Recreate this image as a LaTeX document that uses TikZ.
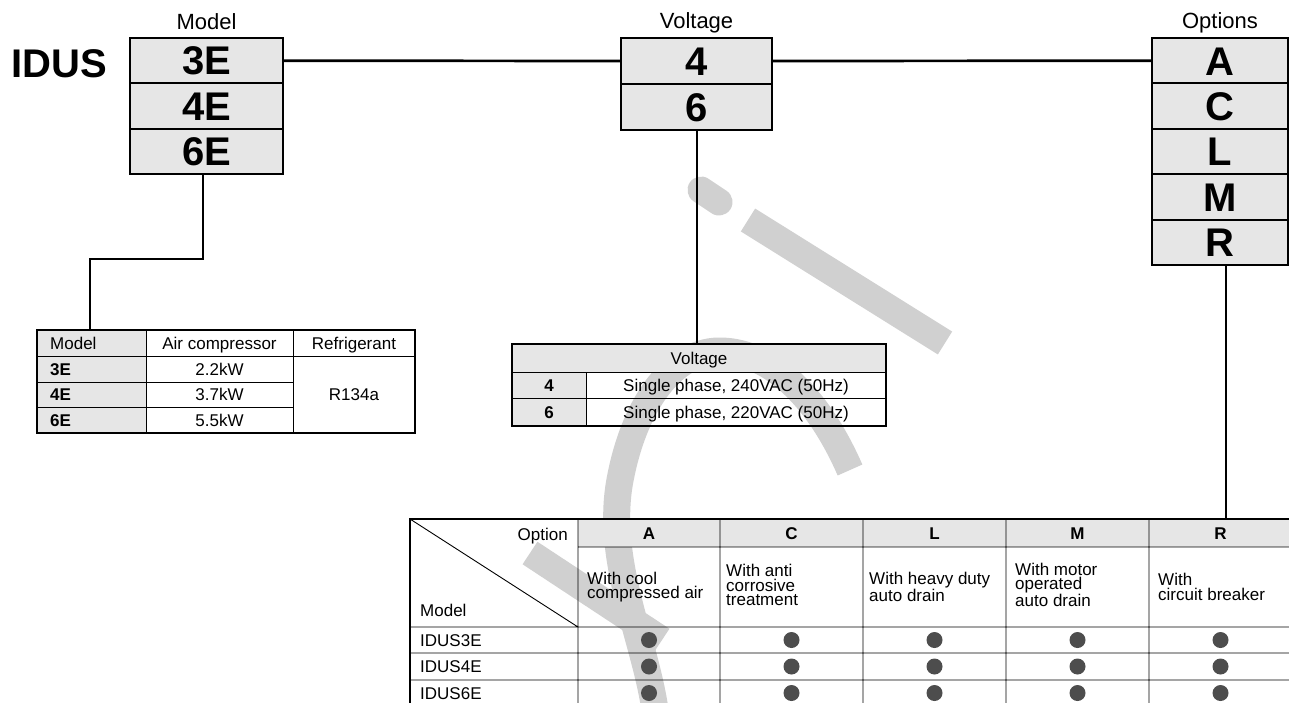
\documentclass[tikz,border=0pt]{standalone}
\usepackage{fontspec}
\setmainfont{Liberation Sans}
\definecolor{boxgray}{RGB}{230,230,230}
\definecolor{dotgray}{RGB}{77,77,77}
\definecolor{wmgray}{RGB}{208,208,208}
\begin{document}
\begin{tikzpicture}[x=1pt,y=-1pt,
  bigcell/.style={draw, line width=2pt, fill=boxgray, inner sep=0pt, outer sep=0pt,
    text height=28.6pt, text depth=0pt, font=\fontsize{40}{40}\selectfont\bfseries},
  toplabel/.style={inner sep=0pt, text height=15.8pt, text depth=0pt, font=\fontsize{22}{22}\selectfont},
  mainline/.style={line width=2.7pt},
  subline/.style={line width=2pt},
  tframe/.style={draw, line width=1.5pt, inner sep=0pt, outer sep=0pt},
  tline/.style={line width=0.9pt},
  ttext/.style={inner sep=0pt, text height=12.2pt, text depth=0pt, font=\fontsize{17}{14}\selectfont},
  tbold/.style={inner sep=0pt, text height=12.2pt, text depth=0pt, font=\fontsize{17}{14}\selectfont\bfseries},
  desc/.style={inner sep=0pt, anchor=west, align=left, font=\fontsize{17}{14.5}\selectfont},
  mark dot/.style={fill=dotgray, draw=none},
  wm/.style={draw=wmgray, line width=27pt},
]
\useasboundingbox (0,0) rectangle (1289,702);
\clip (0,0) rectangle (1289,702);

% ---------- watermark strokes (behind everything) ----------
\draw[wm, line cap=round] (701,190) -- (719,202);
\draw[wm] (748,220) -- (945,343);
\draw[wm] (655,710) .. controls (645,640) and (605,560) .. (620,480)
  .. controls (635,400) and (675,352) .. (718,351)
  .. controls (765,350) and (815,390) .. (850,470);
\draw[wm] (530,553) -- (662,640);

% ---------- code boxes ----------
\node[inner sep=0pt, text height=28.6pt, text depth=0pt, font=\fontsize{40}{40}\selectfont\bfseries] (idus) at (59,63.5) {IDUS};
\node[toplabel] (lmodel) at (206.5,22) {Model};
\node[toplabel] (lvolt) at (696.5,21) {Voltage};
\node[toplabel] (lopt) at (1220,21) {Options};

\node[bigcell, minimum width=153pt, minimum height=45.33pt] (m1) at (206.5,60.67) {3E};
\node[bigcell, minimum width=153pt, minimum height=45.33pt] (m2) at (206.5,106) {4E};
\node[bigcell, minimum width=153pt, minimum height=45.33pt] (m3) at (206.5,151.33) {6E};

\node[bigcell, minimum width=151pt, minimum height=46pt] (v1) at (696.5,61) {4};
\node[bigcell, minimum width=151pt, minimum height=46pt] (v2) at (696.5,107) {6};

\node[bigcell, minimum width=136pt, minimum height=45.4pt] (o1) at (1220,60.7) {A};
\node[bigcell, minimum width=136pt, minimum height=45.4pt] (o2) at (1220,106.1) {C};
\node[bigcell, minimum width=136pt, minimum height=45.4pt] (o3) at (1220,151.5) {L};
\node[bigcell, minimum width=136pt, minimum height=45.4pt] (o4) at (1220,196.9) {M};
\node[bigcell, minimum width=136pt, minimum height=45.4pt] (o5) at (1220,242.3) {R};

% ---------- left table (model) ----------
\fill[boxgray] (37,330) rectangle (146,433);
\draw[tline] (146,330) -- (146,433) (293,330) -- (293,433)
  (37,356) -- (415,356) (37,382) -- (293,382) (37,407) -- (293,407);
\node[tframe, minimum width=378pt, minimum height=103pt] (lt) at (226,381.5) {};
\node[ttext, anchor=west] (lt11) at (50,343) {Model};
\node[ttext] (lt12) at (219.5,343) {Air compressor};
\node[ttext] (lt13) at (354,343) {Refrigerant};
\node[tbold, anchor=west] (lt21) at (50,369) {3E};
\node[tbold, anchor=west] (lt31) at (50,394.5) {4E};
\node[tbold, anchor=west] (lt41) at (50,420) {6E};
\node[ttext] (lt22) at (219.5,369) {2.2kW};
\node[ttext] (lt32) at (219.5,394.5) {3.7kW};
\node[ttext] (lt42) at (219.5,420) {5.5kW};
\node[ttext] (lt23) at (354,394.5) {R134a};

% ---------- voltage table ----------
\fill[boxgray] (512,344) rectangle (886,372) (512,372) rectangle (586,426);
\draw[tline] (512,372) -- (886,372) (512,398) -- (886,398) (586,372) -- (586,426);
\node[tframe, minimum width=374pt, minimum height=82pt] (vt) at (699,385) {};
\node[ttext] (vt1) at (699,358) {Voltage};
\node[tbold] (vt21) at (549,385) {4};
\node[tbold] (vt31) at (549,412) {6};
\node[ttext] (vt22) at (736,385) {Single phase, 240VAC (50Hz)};
\node[ttext] (vt32) at (736,412) {Single phase, 220VAC (50Hz)};

% ---------- option table ----------
\fill[boxgray] (578,519) rectangle (1295,547);
\draw[tline] (578,547) -- (1295,547)
  (410,627) -- (1295,627) (410,653) -- (1295,653) (410,680) -- (1295,680) (410,707) -- (1295,707)
  (578,519) -- (578,707) (720,519) -- (720,707) (863,519) -- (863,707)
  (1006,519) -- (1006,707) (1149,519) -- (1149,707)
  (410,519) -- (578,627);
\node[tframe, minimum width=885pt, minimum height=188pt] (bt) at (852.5,613) {};
\node[ttext, anchor=east] (bopt) at (568,534) {Option};
\node[ttext, anchor=west] (bmod) at (420,610) {Model};
\node[tbold] (hA) at (649,533) {A};
\node[tbold] (hC) at (791.5,533) {C};
\node[tbold] (hL) at (934.5,533) {L};
\node[tbold] (hM) at (1077.5,533) {M};
\node[tbold] (hR) at (1220.5,533) {R};
\node[desc] (dA) at (587,587) {With cool\\compressed air};
\node[desc] (dC) at (726,585) {With anti\\corrosive\\treatment};
\node[desc] (dL) at (869,587) {With heavy duty\\auto drain};
\node[desc] (dM) at (1015,585) {With motor\\operated\\auto drain};
\node[desc] (dR) at (1158,587) {With\\circuit breaker};
\node[ttext, anchor=west] (r1) at (420,640) {IDUS3E};
\node[ttext, anchor=west] (r2) at (420,666.5) {IDUS4E};
\node[ttext, anchor=west] (r3) at (420,693) {IDUS6E};
\foreach \cx in {649,791.5,934.5,1077.5,1220.5}
  \foreach \cy in {640,666.5,693}
    \fill[mark dot] (\cx,\cy) circle (8);

% ---------- connectors ----------
\draw[mainline] (m1.east) -- (v1.west);
\draw[mainline] (v1.east) -- (o1.west);
\draw[subline] ([xshift=-3.5pt]m3.south) -- ++(0,85) -| ([xshift=53pt]lt.north west);
\draw[subline] (v2.south) -- (v2.south |- vt.north);
\draw[subline] ([xshift=6pt]o5.south) -- ([xshift=6pt]o5.south |- bt.north);
\end{tikzpicture}
\end{document}
